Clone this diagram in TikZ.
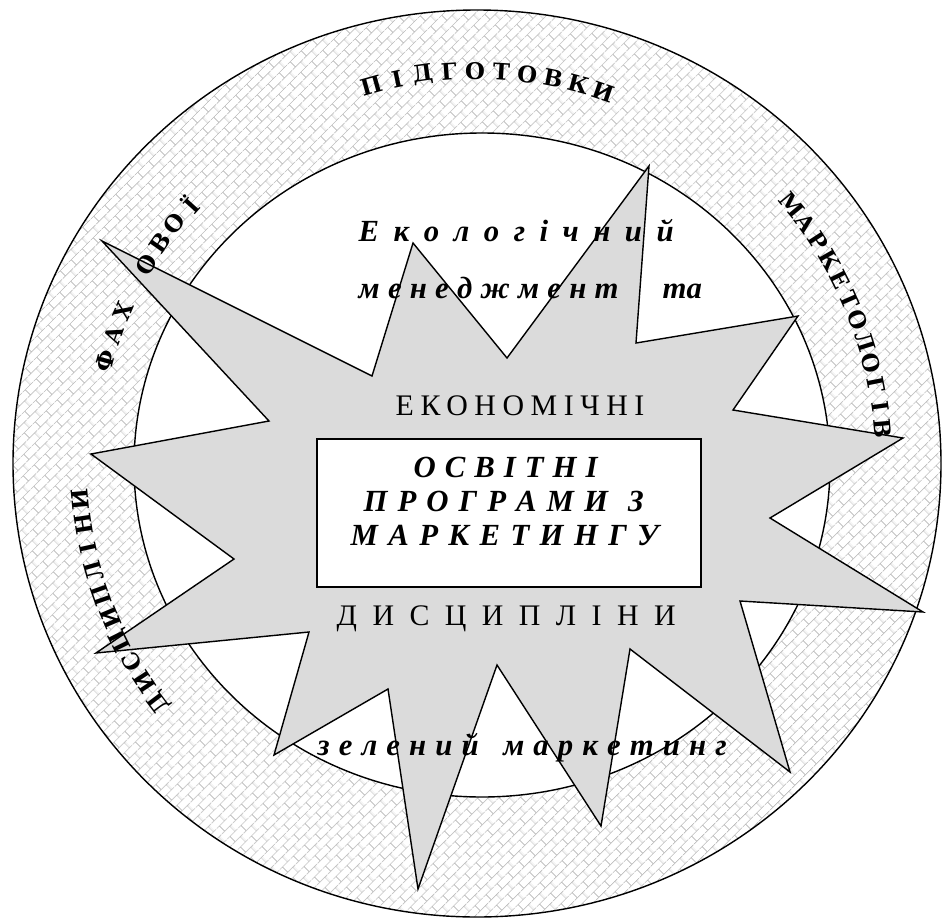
\documentclass[tikz,border=0pt]{standalone}
\usepackage{fontspec}
\setmainfont{Liberation Serif}
\newfontfamily\ringfont{DejaVu Serif}
\newfontfamily\trackfont[LetterSpace=22]{Liberation Serif}
\usetikzlibrary{patterns.meta}

\tikzdeclarepattern{
  name=diagbricks,
  type=uncolored,
  bounding box={(0,0) and (9pt,9pt)},
  tile size={(9pt,9pt)},
  tile transformation={rotate=45},
  code={
    \draw[line width=0.5pt] (0,2.25pt) -- (9pt,2.25pt) (0,6.75pt) -- (9pt,6.75pt)
      (2.25pt,2.25pt) -- (2.25pt,6.75pt)
      (6.75pt,6.75pt) -- (6.75pt,9pt) (6.75pt,0pt) -- (6.75pt,2.25pt);
  }
}

% letters round the ring: start angle, step, radius, letters
\newcommand\ringword[4]{%
  \foreach \ch [count=\i from 0] in {#4}
    \node[ringtxt, rotate={#1-#2*\i-90}] at ({#1-#2*\i}:#3) {\ch};
}

\begin{document}
\begin{tikzpicture}[
    x=0.02cm, y=0.02cm,
    line width=0.8pt,
    ring/.style={draw, pattern=diagbricks, pattern color=black!27},
    hole/.style={draw, fill=white},
    burst/.style={draw, fill=black!14, line join=miter},
    progbox/.style={
        draw,
        fill=white,
        minimum width=7.68cm,
        minimum height=2.96cm,
        inner sep=0pt
    },
    plain/.style={inner sep=0pt, anchor=base west, font=\fontsize{17pt}{20pt}\selectfont},
    boldit/.style={plain, font=\fontsize{17.5pt}{20pt}\selectfont\bfseries\itshape},
    ringtxt/.style={inner sep=0pt, font=\ringfont\bfseries\fontsize{13pt}{15pt}\selectfont}
]
\useasboundingbox (0,0) rectangle (945,-919);

% ============================================================
% KILTSE
% ============================================================
\draw[ring] (477,-463.5) ellipse [x radius=464, y radius=453.5];
\draw[hole] (482,-465) ellipse [x radius=348, y radius=332];

% ============================================================
% ZIRKA
% ============================================================
\draw[burst] (102,-241) -- (372,-376) -- (413,-243) -- (507,-358)
    -- (649,-166) -- (636,-343) -- (798,-316) -- (733,-410)
    -- (903,-438) -- (770,-518) -- (923,-612) -- (740,-601)
    -- (790,-772) -- (630,-649) -- (601,-826) -- (497,-665)
    -- (418,-889) -- (388,-689) -- (274,-755) -- (309,-632)
    -- (96,-653) -- (234,-559) -- (91,-454) -- (269,-421) -- cycle;

% ============================================================
% TEKSTY
% ============================================================
\node[boldit] (ekol) at (358,-241) {\makebox[6.3cm][s]{Е к о л о г і ч н и й}};
\node[boldit] (mened) at (358,-298) {\makebox[5.2cm][s]{м е н е д ж м е н т}};
\node[boldit] (ta) at (662,-298) {та};
\node[plain, font=\trackfont\fontsize{17pt}{20pt}\selectfont] (ekon) at (395,-415) {ЕКОНОМІЧНІ};

\node[progbox] (prog) at (509,-513) {};
\node[boldit] (prog1) at (413,-477) {\makebox[3.68cm][s]{О С В І Т Н І}};
\node[boldit] (prog2) at (363,-511) {\makebox[5.6cm][s]{П Р О Г Р А М И~ З}};
\node[boldit] (prog3) at (350,-545) {\makebox[6.16cm][s]{М А Р К Е Т И Н Г У}};

\node[plain] (dysc) at (336,-625) {\makebox[6.78cm][s]{Д И С Ц И П Л І Н И}};
\node[boldit] (zelen) at (317,-755) {\makebox[8.18cm][s]{з е л е н и й\hspace{0.8em}м а р к е т и н г}};

% tekst po kiltsu
\begin{scope}[shift={(477,-463)}]
  \ringword{217}{3.53}{398}{Д,И,С,Ц,И,П,Л,І,Н,И}
  \ringword{164.6}{3.95}{385}{Ф,А,Х}
  \ringword{149}{3.7}{386}{О,В,О,Ї}
  \ringword{105.6}{3.83}{392}{П,І,Д,Г,О,Т,О,В,К,И}
  \ringword{39.3}{3.13}{407}{М,А,Р,К,Е,Т,О,Л,О,Г,І,В}
\end{scope}

\end{tikzpicture}
\end{document}
